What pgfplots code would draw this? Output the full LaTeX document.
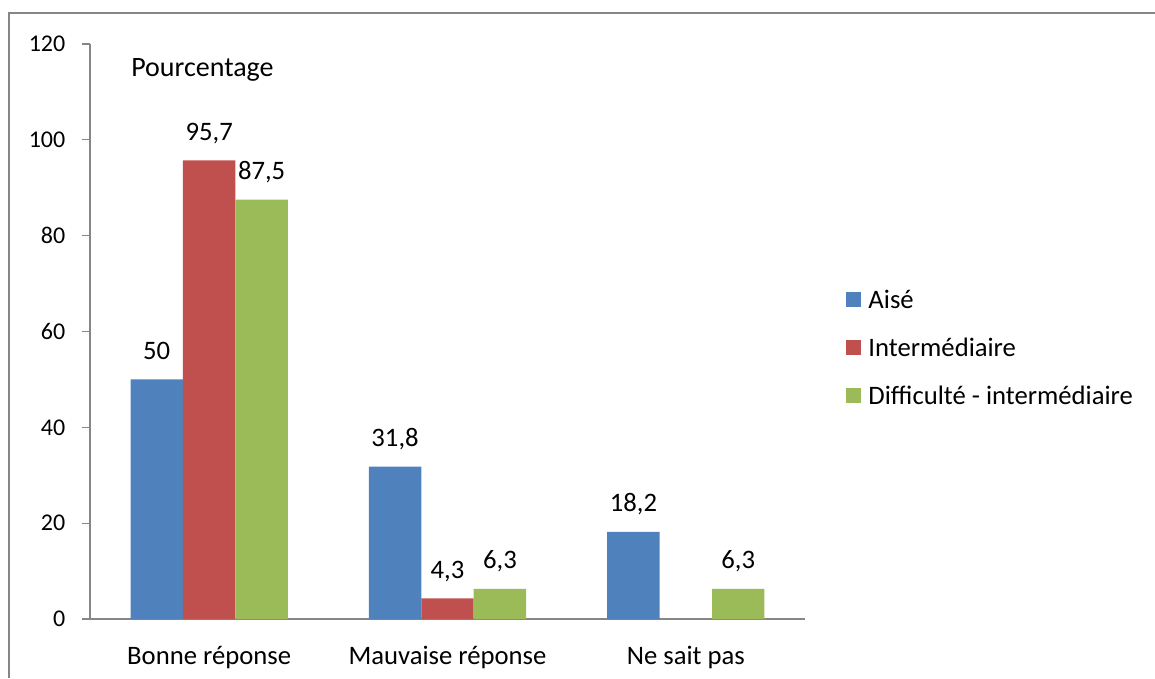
\documentclass[border=0pt]{standalone}
\usepackage{fontspec}
\setmainfont{Carlito}
\usepackage{pgfplots}
\pgfplotsset{compat=1.18}
\definecolor{cA}{HTML}{4F81BD}
\definecolor{cB}{HTML}{C0504D}
\definecolor{cC}{HTML}{9BBB59}
\definecolor{axgray}{HTML}{868686}
\begin{document}
\begin{tikzpicture}
\begin{axis}[
  at={(67.5pt,44.25pt)}, anchor=south west,
  scale only axis, width=536.25pt, height=431.25pt,
  xmin=-0.5, xmax=2.5, ymin=0, ymax=120,
  axis lines*=left,
  axis line style={axgray, line width=0.9pt},
  every tick/.style={axgray, line width=0.9pt},
  tick align=outside,
  major tick length=6pt,
  minor tick length=6pt,
  ytick={0,20,...,120},
  xtick={0,1,2},
  xticklabels={Bonne réponse, Mauvaise réponse, Ne sait pas},
  x tick style={draw=none},
  minor xtick={-0.5,0.5,1.5,2.5},
  minor x tick style={axgray, line width=0.9pt},
  yticklabel style={font=\fontsize{18}{20}\selectfont, anchor=east, xshift=-9pt},
  xticklabel style={font=\fontsize{20}{22}\selectfont, anchor=base, yshift=-28pt},
  /pgf/number format/assume math mode=true,
  bar width=0.22,
  legend style={draw=none, fill=none, at={(1.052,0.468)}, anchor=west,
    font=\fontsize{20}{22}\selectfont, row sep=18pt, column sep=5.25pt,
    nodes={inner sep=0pt, text height=14pt, text depth=4pt}},
  legend cell align=left,
  legend image code/.code={\fill[#1] (0pt,-3.5pt) rectangle (11.25pt,7.75pt);},
  lbl/.style={nodes near coords, every node near coord/.append style={font=\fontsize{20}{22}\selectfont, anchor=base, yshift=15pt, xshift=#1, inner sep=0pt, text=black},
    nodes near coords={\pgfmathprintnumber[use comma, fixed, precision=1, assume math mode=true]{\pgfplotspointmeta}}},
]
\addplot[ybar, bar shift=-0.22, fill=cA, draw=none, lbl=-39.325pt] coordinates {(0,50) (1,31.8) (2,18.2)};
\addplot[ybar, bar shift=0, fill=cB, draw=none, lbl=0pt] coordinates {(0,95.7) (1,4.3)};
\addplot[ybar, bar shift=0.22, fill=cC, draw=none, lbl=39.325pt] coordinates {(0,87.5) (1,6.3) (2,6.3)};
\legend{Aisé, Intermédiaire, Difficulté - intermédiaire}
\node[anchor=base west, inner sep=0pt, font=\fontsize{21}{22}\selectfont] at (axis description cs:0.0574,0.944) {Pourcentage};
\node[anchor=base west, inner sep=0pt, font=\fontsize{20.5}{22}\selectfont] at (axis description cs:1.088,-0.0104) {Propositions};
\end{axis}
\draw[axgray, line width=1.3pt] (6.75pt,0pt) -- (6.75pt,498.75pt) -- (866.25pt,498.75pt);
\pgfresetboundingbox
\useasboundingbox (0pt,0pt) rectangle (866.25pt,508.5pt);
\end{tikzpicture}
\end{document}
